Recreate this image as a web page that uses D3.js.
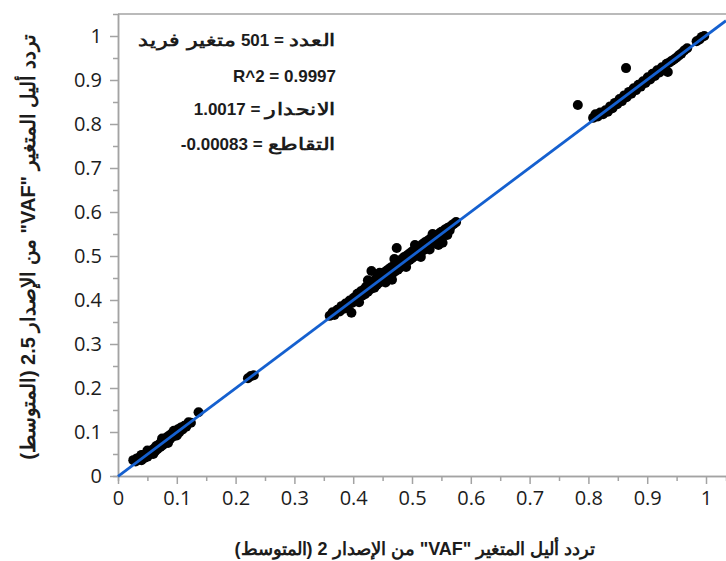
<!DOCTYPE html>
<html>
<head>
<meta charset="utf-8">
<script src="https://cdn.jsdelivr.net/npm/d3@7"></script>
<style>
    body { margin: 0; background: #fff; }
    #chart { width: 726px; height: 561px; }
</style>
</head>
<body>
<div id="chart"></div>
<script>
//Datos: [VAF versión 2, VAF versión 2.5]
const lowCluster = [
    [0.026,0.036],[0.030,0.033],[0.032,0.040],[0.035,0.037],[0.038,0.044],[0.040,0.036],
    [0.040,0.048],[0.042,0.047],[0.045,0.041],[0.047,0.050],[0.050,0.044],[0.050,0.058],
    [0.052,0.055],[0.054,0.049],[0.057,0.058],[0.058,0.052],[0.060,0.050],[0.061,0.062],
    [0.063,0.056],[0.065,0.068],[0.067,0.061],[0.070,0.072],[0.072,0.066],[0.074,0.078],
    [0.075,0.085],[0.076,0.070],[0.078,0.082],[0.080,0.075],[0.083,0.088],[0.085,0.080],
    [0.085,0.075],[0.087,0.092],[0.089,0.085],[0.092,0.097],[0.094,0.090],[0.095,0.103],
    [0.097,0.101],[0.099,0.094],[0.100,0.092],[0.102,0.106],[0.104,0.099],[0.107,0.110],
    [0.110,0.106],[0.113,0.114],[0.116,0.112],[0.120,0.122],[0.124,0.121],[0.137,0.145]
];
const midLowCluster = [[0.221,0.222],[0.226,0.227],[0.231,0.229]];
const midCluster = [
    [0.360,0.364],[0.365,0.372],[0.368,0.366],[0.373,0.378],[0.377,0.374],[0.380,0.386],
    [0.384,0.380],[0.387,0.392],[0.391,0.388],[0.394,0.399],[0.397,0.371],[0.398,0.393],
    [0.401,0.405],[0.404,0.400],[0.407,0.414],[0.410,0.406],[0.410,0.395],[0.413,0.420],
    [0.415,0.410],[0.418,0.424],[0.420,0.413],[0.422,0.430],[0.425,0.419],[0.425,0.445],
    [0.427,0.440],[0.430,0.425],[0.431,0.466],[0.433,0.437],[0.436,0.428],[0.438,0.447],
    [0.440,0.434],[0.443,0.452],[0.445,0.440],[0.445,0.462],[0.447,0.458],[0.449,0.446],
    [0.452,0.462],[0.454,0.449],[0.455,0.440],[0.456,0.466],[0.458,0.453],[0.460,0.470],
    [0.462,0.456],[0.464,0.474],[0.466,0.446],[0.467,0.461],[0.469,0.478],[0.470,0.493],
    [0.471,0.465],[0.474,0.518],[0.474,0.483],[0.476,0.469],[0.478,0.489],[0.480,0.474],
    [0.482,0.492],[0.484,0.479],[0.486,0.497],[0.488,0.483],[0.490,0.500],[0.490,0.475],
    [0.492,0.488],[0.494,0.504],[0.496,0.491],[0.498,0.508],[0.500,0.495],[0.502,0.512],
    [0.504,0.499],[0.505,0.525],[0.506,0.516],[0.508,0.503],[0.510,0.519],[0.512,0.506],
    [0.514,0.522],[0.515,0.498],[0.516,0.510],[0.518,0.527],[0.520,0.514],[0.522,0.531],
    [0.524,0.518],[0.526,0.534],[0.528,0.521],[0.530,0.538],[0.530,0.515],[0.532,0.525],
    [0.534,0.541],[0.535,0.550],[0.536,0.529],[0.538,0.545],[0.540,0.533],[0.542,0.548],
    [0.544,0.537],[0.545,0.525],[0.546,0.551],[0.548,0.542],[0.550,0.555],[0.552,0.530],
    [0.553,0.546],[0.556,0.560],[0.558,0.551],[0.560,0.548],[0.561,0.564],[0.564,0.558],
    [0.567,0.569],[0.571,0.573],[0.575,0.577]
];
const highCluster = [
    [0.782,0.843],[0.808,0.814],[0.812,0.822],[0.816,0.817],[0.820,0.826],[0.825,0.822],
    [0.829,0.831],[0.833,0.828],[0.837,0.840],[0.841,0.836],[0.845,0.848],[0.849,0.845],
    [0.853,0.857],[0.857,0.852],[0.861,0.865],[0.864,0.927],[0.865,0.861],[0.869,0.873],
    [0.873,0.869],[0.877,0.881],[0.881,0.877],[0.885,0.889],[0.889,0.885],[0.893,0.897],
    [0.897,0.893],[0.901,0.906],[0.905,0.901],[0.909,0.914],[0.913,0.909],[0.917,0.922],
    [0.921,0.917],[0.925,0.929],[0.929,0.925],[0.935,0.918],[0.933,0.937],[0.938,0.940],
    [0.942,0.944],[0.946,0.947],[0.950,0.951],[0.954,0.956],[0.958,0.960],[0.963,0.967],
    [0.968,0.972],[0.984,0.988],[0.989,0.992],[0.993,0.998],[0.997,1.000]
];

//Ajuste lineal
const fitSlope = 1.0017, fitIntercept = -0.00083;

//Ejes
const majorTicks = [0, 0.1, 0.2, 0.3, 0.4, 0.5, 0.6, 0.7, 0.8, 0.9, 1];
const tickLabels = ['0', '0.1', '0.2', '0.3', '0.4', '0.5', '0.6', '0.7', '0.8', '0.9', '1'];
const minorTicks = [0.05, 0.15, 0.25, 0.35, 0.45, 0.55, 0.65, 0.75, 0.85, 0.95];

//Textos del cuadro: trozos de cada línea tal como se ven, de derecha a izquierda
const statLines = [
    ['العدد', '501 =', 'متغير فريد'],
    ['R^2 = 0.9997'],
    ['الانحدار', '1.0017 ='],
    ['التقاطع', '-0.00083 =']
];
const xTitle = 'تردد أليل المتغير "VAF" من الإصدار 2 (المتوسط)';
const yTitle = 'تردد أليل المتغير "VAF" من الإصدار 2.5 (المتوسط)';

const COLOR_LINE = '#1560cf', COLOR_AXIS = '#a3a3a3', COLOR_TEXT = '#1c1c1c';

let margin = {top: 14, right: 0, bottom: 85, left: 118},
    width = 726 - margin.left - margin.right,
    height = 561 - margin.top - margin.bottom;

let svg = d3.select('#chart')
    .append('svg')
        .attr('width', 726)
        .attr('height', 561)
    .append('g')
        .attr('transform', 'translate(' + margin.left + ',' + margin.top + ')');

let x = d3.scaleLinear()
    .domain([0, 1.034])
    .range([0, width]);

let y = d3.scaleLinear()
    .domain([0, 1.05])
    .range([height, 0]);

//Borde superior
svg.append('line')
    .attr('x1', 0).attr('x2', width)
    .attr('y1', 0).attr('y2', 0)
    .attr('stroke', COLOR_AXIS).attr('stroke-width', 1.5);

//Ticks menores
svg.append('g')
    .attr('class', 'axis minor')
    .attr('transform', 'translate(0,' + height + ')')
    .call(d3.axisBottom(x).tickValues(minorTicks).tickSize(5).tickFormat(''));

svg.append('g')
    .attr('class', 'axis minor')
    .call(d3.axisLeft(y).tickValues(minorTicks).tickSize(5).tickFormat(''));

//Ejes principales
svg.append('g')
    .attr('class', 'axis')
    .attr('transform', 'translate(0,' + height + ')')
    .call(d3.axisBottom(x).tickValues(majorTicks).tickSize(8).tickSizeOuter(0).tickPadding(7)
        .tickFormat(function(d, i) { return tickLabels[i]; }));

svg.append('g')
    .attr('class', 'axis')
    .call(d3.axisLeft(y).tickValues(majorTicks).tickSize(8).tickSizeOuter(0).tickPadding(8)
        .tickFormat(function(d, i) { return tickLabels[i]; }));

svg.selectAll('.axis path, .axis line')
    .attr('stroke', COLOR_AXIS)
    .attr('stroke-width', 1.5);

svg.selectAll('.axis text')
    .attr('fill', COLOR_TEXT)
    .style('font-family', '"Open Sans", sans-serif')
    .style('font-size', '20px');

//Puntos
let allPoints = lowCluster.concat(midLowCluster, midCluster, highCluster);

svg.append('g')
    .selectAll('circle')
    .data(allPoints)
    .enter()
    .append('circle')
    .attr('cx', function(d) { return x(d[0]); })
    .attr('cy', function(d) { return y(d[1]); })
    .attr('r', 5)
    .attr('fill', '#000');

//Recta de regresión
let xEnd = x.domain()[1];
svg.append('line')
    .attr('x1', x(0)).attr('y1', y(fitIntercept))
    .attr('x2', x(xEnd)).attr('y2', y(fitIntercept + fitSlope * xEnd))
    .attr('stroke', COLOR_LINE)
    .attr('stroke-width', 2.8);

//Cuadro de estadísticas: cada trozo se coloca a la izquierda del anterior
const isArabic = /[\u0600-\u06FF]/;
let statBox = svg.append('g').attr('class', 'stats');
let lineY = [46, 82, 115, 150];

statLines.forEach(function(pieces, i) {
    let cursor = 336 - margin.left;
    pieces.forEach(function(piece) {
        let ar = isArabic.test(piece);
        let sx = ar ? 1.3 : 1;
        let t = statBox.append('text')
            .attr('transform', 'translate(' + cursor + ',' + (lineY[i] - margin.top) + ') scale(' + sx + ',1)')
            .attr('text-anchor', 'end')
            .attr('fill', COLOR_TEXT)
            .style('font-family', ar ? 'sans-serif' : '"Liberation Sans Narrow", "Liberation Sans", Arial, sans-serif')
            .style('font-weight', 'bold')
            .style('font-size', '17px')
            .text(piece);
        cursor -= t.node().getComputedTextLength() * sx + 5;
    });
});

//Títulos de ejes
svg.append('text')
    .attr('x', 415 - margin.left)
    .attr('y', 555 - margin.top)
    .attr('text-anchor', 'middle')
    .attr('direction', 'rtl')
    .attr('fill', COLOR_TEXT)
    .style('font-family', 'sans-serif')
    .style('font-weight', 'bold')
    .style('font-size', '18px')
    .text(xTitle);

svg.append('text')
    .attr('transform', 'translate(' + (35 - margin.left) + ',' + (247 - margin.top) + ') rotate(-90)')
    .attr('text-anchor', 'middle')
    .attr('direction', 'rtl')
    .attr('fill', COLOR_TEXT)
    .style('font-family', 'sans-serif')
    .style('font-weight', 'bold')
    .style('font-size', '20px')
    .text(yTitle);
</script>
</body>
</html>
